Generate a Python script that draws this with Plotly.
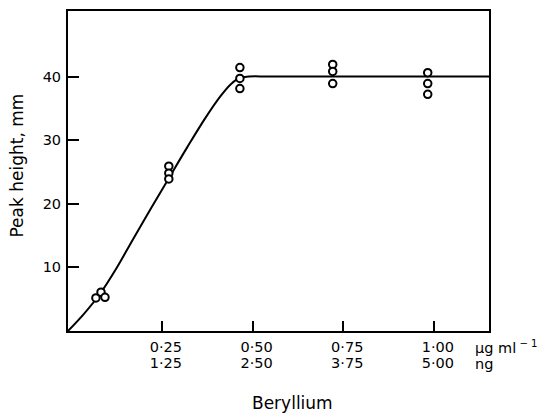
import plotly.graph_objects as go

# Beryllium concentration ticks (µg/ml) and the matching amount in ng
conc_ug = [0.25, 0.50, 0.75, 1.00]
tick_ug = ["0·25", "0·50", "0·75", "1·00"]
tick_ng = ["1·25", "2·50", "3·75", "5·00"]
y_ticks = [10, 20, 30, 40]

# Measured peak heights (replicate determinations)
pts_x = [0.068, 0.082, 0.093,
         0.269, 0.269, 0.269,
         0.465, 0.465, 0.465,
         0.721, 0.721, 0.721,
         0.983, 0.983, 0.983]
pts_y = [5.2, 6.1, 5.3,
         25.9, 24.8, 23.9,
         41.4, 39.7, 38.1,
         41.9, 40.8, 38.9,
         40.6, 38.9, 37.2]

# Calibration curve traced through the points
curve_x = [-0.009, 0.035, 0.080, 0.125, 0.17, 0.22, 0.27, 0.32,
           0.37, 0.41, 0.44, 0.465, 0.49, 0.55, 1.152]
curve_y = [0.0, 2.7, 5.9, 9.9, 14.4, 19.3, 24.1, 28.9,
           33.5, 36.8, 38.8, 39.8, 40.0, 40.0, 40.0]

FONT = "DejaVu Sans"
TICK_SIZE = 14.5
TITLE_SIZE = 17

fig = go.Figure()

fig.add_trace(go.Scatter(
    x=curve_x, y=curve_y, mode="lines",
    line=dict(color="black", width=2, shape="spline", smoothing=1.0),
    hoverinfo="skip", showlegend=False,
))

fig.add_trace(go.Scatter(
    x=pts_x, y=pts_y, mode="markers",
    marker=dict(symbol="circle", size=7.5, color="white",
                line=dict(color="black", width=2)),
    showlegend=False,
))

# second (ng) row of x tick labels lives on an overlaying axis
fig.add_trace(go.Scatter(x=[0.25], y=[None], xaxis="x2", yaxis="y",
                         showlegend=False, hoverinfo="skip"))

fig.update_layout(
    width=548, height=414,
    margin=dict(l=68, r=59, t=9, b=83),
    paper_bgcolor="white", plot_bgcolor="white",
    font=dict(family=FONT, color="black", size=TICK_SIZE),
    xaxis=dict(
        range=[-0.009, 1.152],
        tickvals=conc_ug, ticktext=tick_ug,
        ticks="inside", ticklen=10, tickwidth=1.5, tickcolor="black",
        showline=True, linewidth=2, linecolor="black", mirror=True,
        showgrid=False, zeroline=False,
        tickfont=dict(family=FONT, size=TICK_SIZE, color="black"),
        ticklabelshift=4, ticklabelstandoff=2,
    ),
    xaxis2=dict(
        overlaying="x", matches="x", side="bottom", anchor="y",
        tickvals=conc_ug, ticktext=tick_ng,
        ticks="", showline=False, showgrid=False, zeroline=False,
        tickfont=dict(family=FONT, size=TICK_SIZE, color="black"),
        ticklabelshift=4, ticklabelstandoff=21,
    ),
    yaxis=dict(
        range=[0, 50.3],
        tickvals=y_ticks,
        ticks="inside", ticklen=11, tickwidth=1.5, tickcolor="black",
        showline=True, linewidth=2, linecolor="black", mirror=True,
        showgrid=False, zeroline=False,
        tickfont=dict(family=FONT, size=TICK_SIZE, color="black"),
        ticklabelstandoff=2,
    ),
    annotations=[
        dict(text="μg ml<sup> − 1</sup>", xref="paper", yref="paper",
             x=0.962, y=-0.0497, xanchor="left", yanchor="middle",
             showarrow=False, font=dict(family=FONT, size=TICK_SIZE)),
        dict(text="ng", xref="paper", yref="paper",
             x=0.962, y=-0.1025, xanchor="left", yanchor="middle",
             showarrow=False, font=dict(family=FONT, size=TICK_SIZE)),
        dict(text="Beryllium", xref="paper", yref="paper",
             x=0.534, y=-0.2236, xanchor="center", yanchor="middle",
             showarrow=False, font=dict(family=FONT, size=TITLE_SIZE)),
        dict(text="Peak height, mm", xref="paper", yref="paper",
             x=-0.12, y=0.5186, xanchor="center", yanchor="middle",
             textangle=-90,
             showarrow=False, font=dict(family=FONT, size=TITLE_SIZE)),
    ],
)

fig.write_html("out.html")
